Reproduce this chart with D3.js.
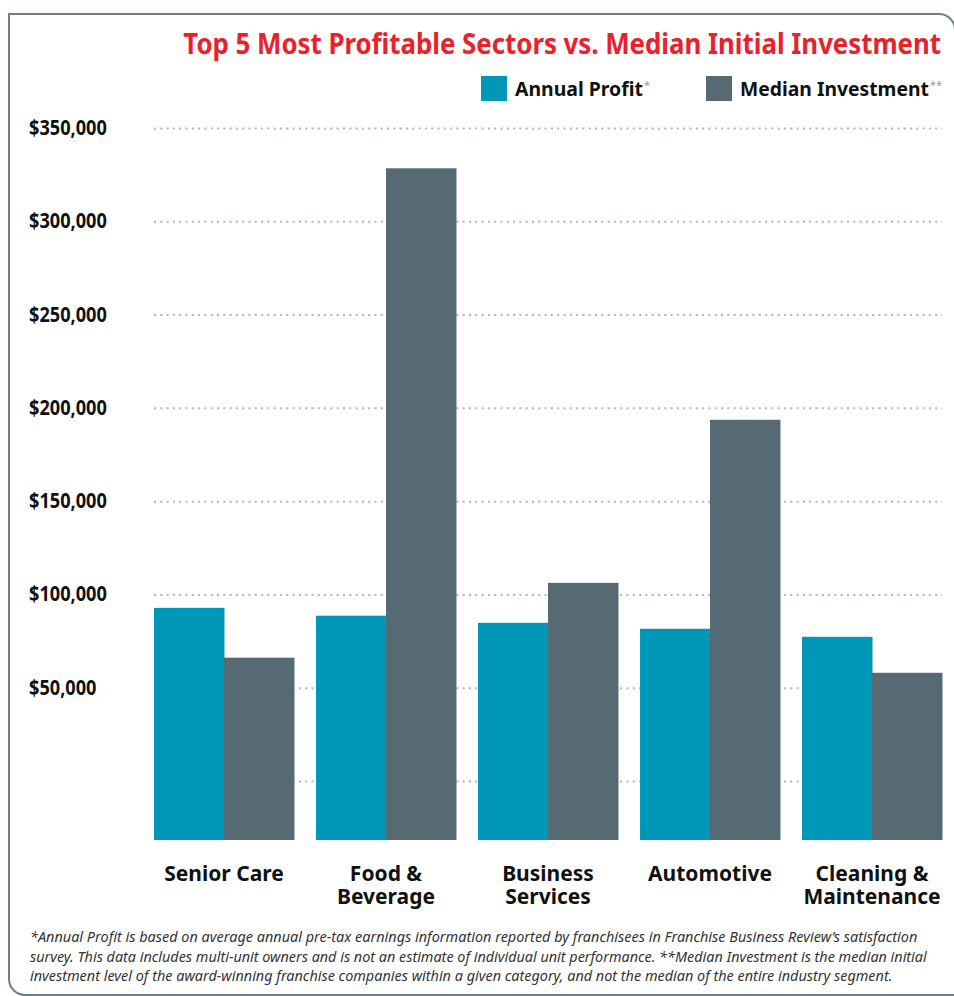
<!DOCTYPE html>
<html>
<head>
<meta charset="utf-8">
<script src="https://cdn.jsdelivr.net/npm/d3@7"></script>
<style>
  body { margin: 0; background: #fff; }
  #chartContainer { width: 954px; height: 996px; }
  text { font-family: "Noto Sans", "Open Sans", sans-serif; }
</style>
</head>
<body>
<div id="chartContainer"></div>
<script>
// chart data
var categories = [["Senior Care"], ["Food &", "Beverage"], ["Business", "Services"], ["Automotive"], ["Cleaning &", "Maintenance"]];
var seriesNames = ["Annual Profit", "Median Investment"];
var seriesMarks = ["*", "**"];
var annualProfit = [92800, 88600, 84800, 81600, 77300];
var medianInvestment = [66100, 328400, 106200, 193600, 58000];
var tickValues = [0, 50000, 100000, 150000, 200000, 250000, 300000, 350000];
var tickLabels = ["", "$50,000", "$100,000", "$150,000", "$200,000", "$250,000", "$300,000", "$350,000"];
var footnote = [
  "*Annual Profit is based on average annual pre-tax earnings information reported by franchisees in Franchise Business Review\u2019s satisfaction",
  "survey. This data includes multi-unit owners and is not an estimate of individual unit performance. **Median Investment is the median initial",
  "investment level of the award-winning franchise companies within a given category, and not the median of the entire industry segment."
];

var colors = ["#0097b8", "#566a73"];

// squeeze a text horizontally so it is `w` px wide (the original uses a condensed face)
function squeeze(sel, w, anchorX, anchorY) {
  var natural = sel.node().getComputedTextLength();
  sel.attr("transform", "translate(" + anchorX + "," + anchorY + ") scale(" + (w / natural) + ",1)");
}

function loadChart() {
  var width = 954, height = 996;
  var plotLeft = 154, plotRight = 942, plotTop = 128, zeroY = 781, plotBottom = 840;

  var container = d3.select("#chartContainer");
  var svg = container.append("svg")
    .attr("width", width)
    .attr("height", height);

  // frame
  svg.append("path")
    .attr("d", "M 955,30 A 16 16 0 0 0 939,14 L 9,14 L 9,979 A 16 16 0 0 0 25,995 L 954,995")
    .attr("fill", "none")
    .attr("stroke", "#6f7f88")
    .attr("stroke-width", 2);

  // title
  var title = svg.append("text")
    .attr("text-anchor", "end")
    .style("font-size", "28px")
    .style("font-weight", "bold")
    .style("fill", "#e8212b")
    .text("Top 5 Most Profitable Sectors vs. Median Initial Investment");
  squeeze(title, 758, 941, 54);

  // legend
  var legendX = [481, 706];
  var legendW = [128, 189];
  seriesNames.forEach(function(name, i) {
    var g = svg.append("g").attr("transform", "translate(" + legendX[i] + ",76)");
    g.append("rect")
      .attr("width", 26)
      .attr("height", 25)
      .attr("fill", colors[i]);
    var t = g.append("text")
      .style("font-size", "19px")
      .style("font-weight", "bold")
      .style("fill", "#111")
      .text(name);
    squeeze(t, legendW[i], 34, 19.5);
    g.append("text")
      .attr("x", 34 + legendW[i] + 1)
      .attr("y", 13)
      .style("font-size", "11px")
      .style("fill", "#999")
      .text(seriesMarks[i]);
  });

  // scales
  var y = d3.scaleLinear()
    .domain([0, 350000])
    .range([zeroY, plotTop]);

  var x0 = d3.scaleBand()
    .domain(d3.range(categories.length))
    .range([plotLeft, plotRight])
    .paddingInner(0.136)
    .paddingOuter(0);

  var x1 = d3.scaleBand()
    .domain(d3.range(seriesNames.length))
    .range([0, x0.bandwidth()])
    .padding(0);

  // gridlines
  var grid = svg.append("g")
    .attr("transform", "translate(" + plotLeft + ",0)")
    .call(d3.axisLeft(y)
      .tickValues(tickValues)
      .tickSize(-(plotRight - plotLeft))
      .tickFormat(""));
  grid.select(".domain").remove();
  grid.selectAll("line")
    .attr("stroke", "#a9b7c1")
    .attr("stroke-width", 2)
    .attr("stroke-dasharray", "2,4.3");

  // y labels
  svg.append("g")
    .selectAll("text")
    .data(tickValues)
    .join("text")
    .style("font-size", "21px")
    .style("font-weight", "bold")
    .style("fill", "#111")
    .text(function(d, i) { return tickLabels[i]; })
    .each(function(d) {
      var t = d3.select(this);
      if (t.text() === "") return;
      squeeze(t, this.getComputedTextLength() * 0.865, 29, y(d) + 7);
    });

  // bars
  var groups = svg.append("g")
    .selectAll("g")
    .data(categories.map(function(c, i) { return [annualProfit[i], medianInvestment[i]]; }))
    .join("g")
    .attr("transform", function(d, i) { return "translate(" + x0(i) + ",0)"; });

  groups.selectAll("rect")
    .data(function(d) { return d; })
    .join("rect")
    .attr("x", function(d, j) { return x1(j); })
    .attr("y", function(d) { return y(d); })
    .attr("width", x1.bandwidth() + 0.5)
    .attr("height", function(d) { return plotBottom - y(d); })
    .attr("fill", function(d, j) { return colors[j]; });

  // category labels, one text per line
  categories.forEach(function(lines, i) {
    lines.forEach(function(line, k) {
      svg.append("text")
        .attr("x", x0(i) + x0.bandwidth() / 2)
        .attr("y", 881 + k * 23)
        .attr("text-anchor", "middle")
        .style("font-size", "21px")
        .style("font-weight", "bold")
        .style("fill", "#111")
        .text(line);
    });
  });

  // footnote
  var noteW = [888, 897, 863];
  svg.append("g")
    .selectAll("text")
    .data(footnote)
    .join("text")
    .style("font-size", "14px")
    .style("font-style", "italic")
    .style("fill", "#333")
    .text(function(d) { return d; })
    .each(function(d, i) { squeeze(d3.select(this), noteW[i], 30, 942 + i * 19.5); });
}

loadChart();
</script>
</body>
</html>
